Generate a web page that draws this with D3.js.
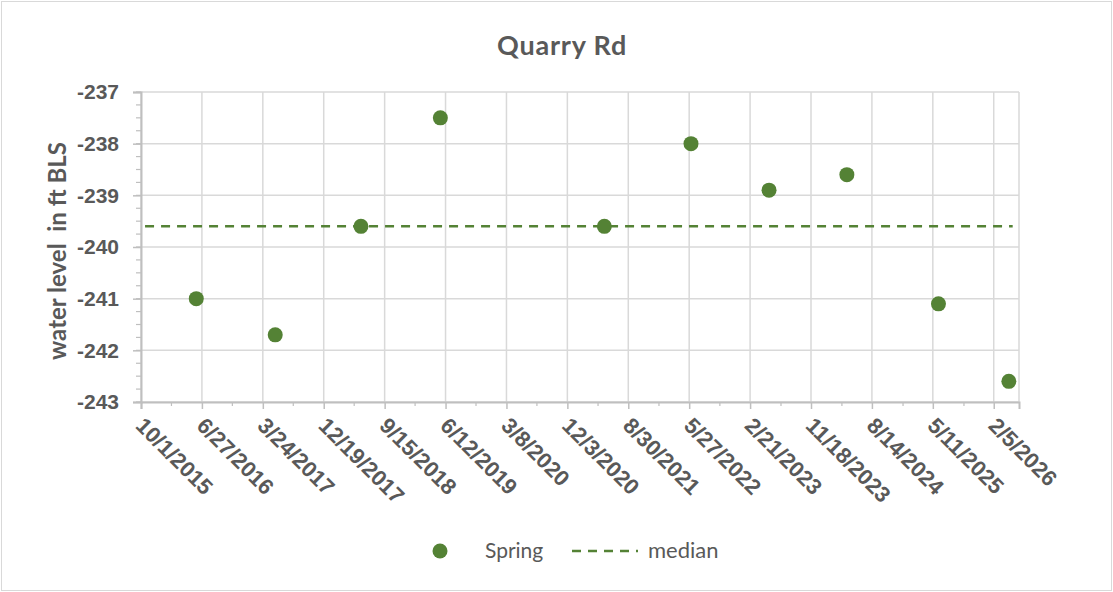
<!DOCTYPE html>
<html>
<head>
<meta charset="utf-8">
<script src="https://cdn.jsdelivr.net/npm/d3@7"></script>
<style>
  body { margin: 0; background: #fff; }
  svg { display: block; font-family: Lato, "Open Sans", sans-serif; }
</style>
</head>
<body>
<svg id="chart"></svg>
<script>
// spring readings (date, water level in ft BLS)
var springDates = ['2016-06-02', '2017-05-18', '2018-06-02', '2019-05-20', '2021-05-16',
                   '2022-06-04', '2023-05-16', '2024-04-25', '2025-06-05', '2026-04-13'];
var springLevels = [-241.0, -241.7, -239.6, -237.5, -239.6, -238.0, -238.9, -238.6, -241.1, -242.6];

// median line end points
var medianDates = ['2015-10-19', '2026-04-30'];
var medianLevels = [-239.6, -239.6];

var xTickLabels = ['10/1/2015', '6/27/2016', '3/24/2017', '12/19/2017', '9/15/2018', '6/12/2019',
                   '3/8/2020', '12/3/2020', '8/30/2021', '5/27/2022', '2/21/2023', '11/18/2023',
                   '8/14/2024', '5/11/2025', '2/5/2026'];
var xMinorLabels = ['2/13/2016', '11/9/2016', '8/6/2017', '5/3/2018', '1/28/2019', '10/25/2019',
                    '7/21/2020', '4/18/2021', '1/13/2022', '10/10/2022', '7/8/2023', '4/3/2024',
                    '12/30/2024', '9/26/2025', '6/24/2026'];
var yTicks = [-237, -238, -239, -240, -241, -242, -243];
var yTickLabels = ['-237', '-238', '-239', '-240', '-241', '-242', '-243'];
var xDomain = ['2015-10-01', '2026-05-28'];
var yDomain = [-243, -237];

var W = 1113, H = 592;
var margin = { top: 92, left: 141, bottom: 190, right: 94 },
    width = W - margin.left - margin.right,
    height = H - margin.top - margin.bottom;

var parseIso = d3.utcParse('%Y-%m-%d');
var parseUs = d3.utcParse('%-m/%-d/%Y');

var svg = d3.select('#chart')
    .attr('width', W)
    .attr('height', H);

svg.append('rect')
    .attr('x', 1.5).attr('y', 1.5)
    .attr('width', W - 3).attr('height', H - 3)
    .attr('fill', '#fff')
    .attr('stroke', '#d9d9d9');

var g = svg.append('g')
    .attr('transform', 'translate(' + margin.left + ',' + margin.top + ')');

var x = d3.scaleUtc()
    .domain(xDomain.map(parseIso))
    .range([0, width]);
var y = d3.scaleLinear()
    .domain(yDomain)
    .range([height, 0]);

var majorX = xTickLabels.map(parseUs);
var minorX = xMinorLabels.map(parseUs).filter(d => d <= x.domain()[1]);
var minorY = d3.range(yDomain[0], yDomain[1] + 0.001, 0.25);

// gridlines
g.append('g').selectAll('line')
    .data(yTicks)
    .enter().append('line')
    .attr('x1', 0).attr('x2', width)
    .attr('y1', d => y(d)).attr('y2', d => y(d))
    .attr('stroke', '#d9d9d9').attr('stroke-width', 1.5);

g.append('g').selectAll('line')
    .data(majorX)
    .enter().append('line')
    .attr('x1', d => x(d)).attr('x2', d => x(d))
    .attr('y1', 0).attr('y2', height)
    .attr('stroke', '#d9d9d9').attr('stroke-width', 1.5);

g.append('line')
    .attr('x1', width).attr('x2', width)
    .attr('y1', 0).attr('y2', height)
    .attr('stroke', '#d9d9d9').attr('stroke-width', 1.5);

// minor ticks
g.append('g').selectAll('line')
    .data(minorY)
    .enter().append('line')
    .attr('x1', -5).attr('x2', 0)
    .attr('y1', d => y(d)).attr('y2', d => y(d))
    .attr('stroke', '#bfbfbf').attr('stroke-width', 1.2);

g.append('g').selectAll('line')
    .data(minorX)
    .enter().append('line')
    .attr('x1', d => x(d)).attr('x2', d => x(d))
    .attr('y1', height).attr('y2', height + 4)
    .attr('stroke', '#bfbfbf').attr('stroke-width', 1.2);

// axes
var yAxis = d3.axisLeft(y)
    .tickValues(yTicks)
    .tickSize(8)
    .tickPadding(14)
    .tickFormat((d, i) => yTickLabels[i]);

var yAxisG = g.append('g').attr('class', 'axis').call(yAxis);

var xAxis = d3.axisBottom(x)
    .tickValues(majorX)
    .tickSize(7)
    .tickFormat((d, i) => xTickLabels[i]);

var xAxisG = g.append('g')
    .attr('class', 'axis')
    .attr('transform', 'translate(0,' + height + ')')
    .call(xAxis);

g.selectAll('.axis path.domain')
    .attr('stroke', '#bfbfbf').attr('stroke-width', 2);
g.selectAll('.axis .tick line')
    .attr('stroke', '#bfbfbf').attr('stroke-width', 1.5);

yAxisG.selectAll('text')
    .attr('fill', '#595959')
    .style('font-size', '21px')
    .style('font-weight', 'bold');

xAxisG.selectAll('text')
    .attr('fill', '#595959')
    .style('font-size', '22px')
    .style('font-weight', 'bold')
    .attr('text-anchor', 'start')
    .attr('dy', 0)
    .attr('y', 0)
    .attr('transform', 'translate(-7,25) rotate(45)');

// median line
var medianData = medianDates.map((d, i) => ({ date: parseIso(d), value: medianLevels[i] }));
var line = d3.line()
    .x(d => x(d.date))
    .y(d => y(d.value));

g.append('path')
    .datum(medianData)
    .attr('d', line)
    .attr('fill', 'none')
    .attr('stroke', '#548235')
    .attr('stroke-width', 2.5)
    .attr('stroke-dasharray', '9,7');

// spring points
var springData = springDates.map((d, i) => ({ date: parseIso(d), value: springLevels[i] }));
g.selectAll('.dot')
    .data(springData)
    .enter().append('circle')
    .attr('class', 'dot')
    .attr('cx', d => x(d.date))
    .attr('cy', d => y(d.value))
    .attr('r', 7.5)
    .attr('fill', '#548235');

// title
svg.append('text')
    .attr('x', 562)
    .attr('y', 55)
    .attr('text-anchor', 'middle')
    .attr('fill', '#595959')
    .style('font-size', '27px')
    .style('font-weight', 'bold')
    .style('letter-spacing', '0.8px')
    .text('Quarry Rd');

// y label
svg.append('text')
    .attr('transform', 'translate(66,' + (margin.top + height / 2 + 4) + ') rotate(-90)')
    .attr('text-anchor', 'middle')
    .attr('fill', '#595959')
    .style('font-size', '24px')
    .style('font-weight', 'bold')
    .style('white-space', 'pre')
    .text('water level  in ft BLS');

// legend
var legend = svg.append('g').attr('transform', 'translate(0,551)');
legend.append('circle')
    .attr('cx', 440).attr('cy', 0).attr('r', 7.5)
    .attr('fill', '#548235');
legend.append('text')
    .attr('x', 485).attr('y', 7)
    .attr('fill', '#595959')
    .style('font-size', '21px')
    .text('Spring');
legend.append('line')
    .attr('x1', 572).attr('x2', 638)
    .attr('y1', 0).attr('y2', 0)
    .attr('stroke', '#548235')
    .attr('stroke-width', 2.5)
    .attr('stroke-dasharray', '9,7');
legend.append('text')
    .attr('x', 648).attr('y', 7)
    .attr('fill', '#595959')
    .style('font-size', '22px')
    .text('median');
</script>
</body>
</html>
